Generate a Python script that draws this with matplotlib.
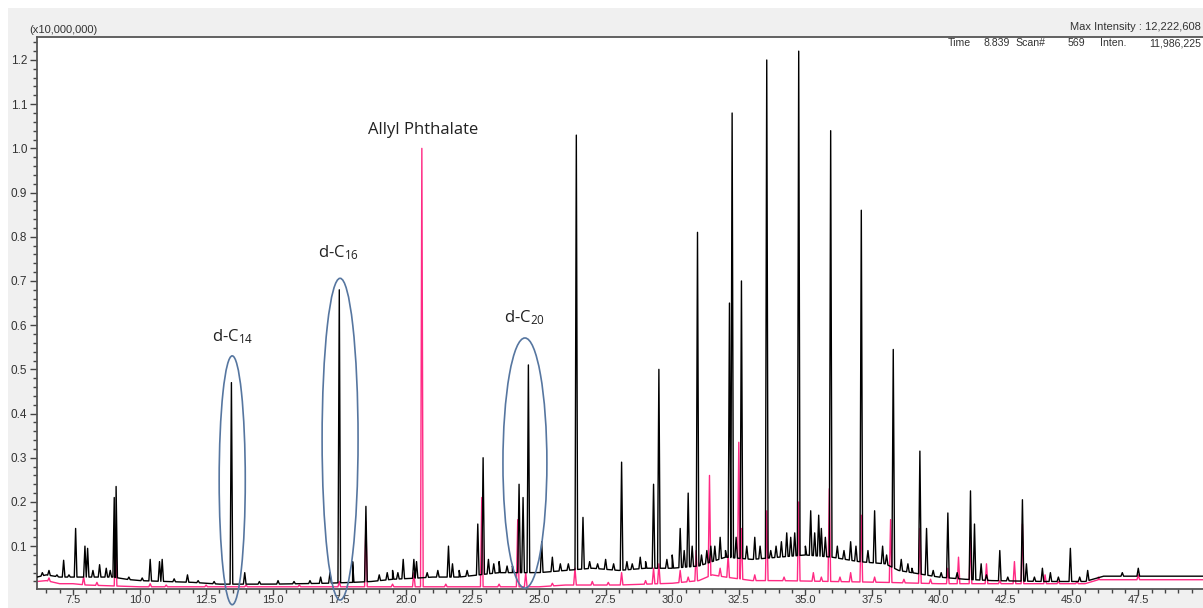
import numpy as np
import matplotlib
matplotlib.use("Agg")
import matplotlib.pyplot as plt
from matplotlib.patches import Ellipse, Rectangle
from matplotlib.ticker import MultipleLocator, FormatStrFormatter

# retention time (min) / intensity (x10,000,000)
black_base_t = [6.15, 6.5, 7.0, 8.0, 9.0, 9.5, 10.0, 11.0, 12.0, 13.0, 15.0, 17.0, 18.0, 18.7, 19.5,
                20.5, 21.0, 22.0, 23.5, 24.0, 25.0, 26.0, 27.0, 28.0, 29.0, 30.0, 31.0, 32.0, 33.0,
                34.0, 35.0, 36.0, 37.0, 38.0, 38.5, 39.0, 40.0, 41.0, 42.0, 44.0, 45.5, 46.2, 49.93]
black_base_i = [0.03, 0.035, 0.03, 0.03, 0.03, 0.025, 0.022, 0.02, 0.018, 0.014, 0.014, 0.016, 0.018, 0.02, 0.025,
                0.028, 0.03, 0.03, 0.04, 0.04, 0.04, 0.045, 0.05, 0.045, 0.05, 0.05, 0.055, 0.075, 0.07,
                0.075, 0.08, 0.075, 0.065, 0.06, 0.045, 0.04, 0.03, 0.025, 0.022, 0.02, 0.02, 0.032, 0.032]

black_peak_t = [6.6, 7.15, 7.35, 7.6, 7.95, 8.05, 8.5, 8.75, 9.05, 9.12, 10.4, 10.75, 10.85, 11.8,
                13.45, 13.95, 17.15, 17.5, 18.0, 18.5, 19.3, 19.5, 19.9, 20.3, 20.4, 21.6, 21.75,
                22.3, 22.7, 22.9, 23.1, 23.5, 23.8, 24.25, 24.4, 24.6, 25.1, 25.5, 26.1, 26.4, 26.65,
                27.5, 28.1, 28.5, 28.8, 29.3, 29.5, 29.8, 30.0, 30.3, 30.45, 30.6, 30.95, 31.3, 31.6,
                31.8, 32.0, 32.15, 32.25, 32.6, 33.1, 33.55, 33.9, 34.3, 34.45, 34.75, 35.0, 35.2,
                35.5, 35.6, 35.95, 36.2, 36.7, 37.1, 37.6, 37.9, 38.3, 38.6, 39.0, 39.3, 39.55, 40.35,
                40.7, 41.2, 41.35, 41.6, 42.3, 43.15, 43.3, 43.9, 44.2, 44.95, 45.6, 46.9, 47.5]
black_peak_i = [0.045, 0.068, 0.035, 0.14, 0.1, 0.095, 0.058, 0.05, 0.21, 0.235, 0.07, 0.065, 0.07, 0.035,
                0.47, 0.04, 0.04, 0.68, 0.065, 0.19, 0.04, 0.045, 0.07, 0.07, 0.065, 0.1, 0.06,
                0.045, 0.15, 0.30, 0.07, 0.065, 0.055, 0.24, 0.21, 0.51, 0.11, 0.075, 0.06, 1.03, 0.165,
                0.07, 0.29, 0.06, 0.075, 0.24, 0.50, 0.07, 0.08, 0.14, 0.09, 0.22, 0.81, 0.09, 0.10,
                0.12, 0.09, 0.65, 1.08, 0.70, 0.12, 1.20, 0.10, 0.13, 0.12, 1.22, 0.10, 0.18,
                0.17, 0.14, 1.04, 0.10, 0.11, 0.86, 0.18, 0.10, 0.545, 0.07, 0.05, 0.315, 0.14, 0.175,
                0.04, 0.225, 0.15, 0.06, 0.09, 0.205, 0.06, 0.05, 0.04, 0.095, 0.045, 0.04, 0.05]

# small baseline bumps ("grass") on the sample trace
black_small_t = [6.35, 6.9, 8.25, 8.9, 9.6, 10.1, 11.3, 12.2, 12.8, 14.5, 15.2, 15.8, 16.4, 16.8, 19.0,
                 19.7, 20.8, 21.2, 22.0, 23.3, 24.0, 25.8, 26.9, 27.2, 27.8, 28.3, 29.0, 30.75, 31.1,
                 31.45, 32.4, 32.8, 33.3, 33.7, 34.1, 34.6, 35.35, 35.75, 36.45, 36.9, 37.35, 38.05,
                 38.85, 39.8, 40.1, 41.8, 42.6, 43.6, 44.5, 45.3]
black_small_i = [0.04, 0.035, 0.045, 0.045, 0.03, 0.028, 0.026, 0.022, 0.02, 0.02, 0.022, 0.02, 0.022, 0.03, 0.035,
                 0.04, 0.04, 0.045, 0.045, 0.06, 0.055, 0.06, 0.065, 0.06, 0.06, 0.065, 0.065, 0.10, 0.08,
                 0.10, 0.12, 0.10, 0.10, 0.09, 0.11, 0.13, 0.13, 0.12, 0.09, 0.10, 0.09, 0.08,
                 0.06, 0.045, 0.04, 0.035, 0.03, 0.03, 0.03, 0.03]

pink_base_t = [6.15, 6.5, 7.0, 7.5, 8.0, 9.0, 10.0, 15.0, 20.0, 25.0, 26.0, 28.0, 30.0, 31.0, 31.5,
               32.0, 33.0, 34.0, 36.0, 38.0, 40.0, 45.5, 46.0, 49.93]
pink_base_i = [0.02, 0.022, 0.015, 0.015, 0.012, 0.01, 0.008, 0.008, 0.008, 0.008, 0.012, 0.012, 0.016,
               0.022, 0.035, 0.03, 0.022, 0.022, 0.02, 0.018, 0.015, 0.015, 0.024, 0.024]

pink_peak_t = [7.9, 9.1, 10.4, 17.5, 18.5, 20.3, 20.6, 22.85, 24.2, 24.5, 26.35, 28.1, 29.3, 29.5, 30.3,
               30.9, 31.4, 32.1, 32.5, 32.6, 33.55, 34.75, 35.3, 35.9, 36.7, 37.1, 38.2, 39.3, 40.35,
               40.75, 41.2, 41.8, 42.85, 43.15, 44.0, 46.0, 47.5]
pink_peak_i = [0.03, 0.13, 0.015, 0.02, 0.155, 0.04, 1.00, 0.21, 0.16, 0.04, 0.05, 0.04, 0.05, 0.06, 0.045,
               0.09, 0.26, 0.08, 0.335, 0.14, 0.18, 0.20, 0.04, 0.23, 0.04, 0.17, 0.16, 0.14, 0.05,
               0.075, 0.12, 0.06, 0.065, 0.15, 0.035, 0.03, 0.035]

pink_small_t = [6.6, 8.4, 11.0, 12.5, 14.0, 16.0, 19.5, 21.5, 23.5, 25.5, 27.0, 27.6, 29.0, 30.6, 31.8,
                33.1, 34.2, 35.6, 36.3, 37.6, 38.7, 39.7, 42.3, 44.5, 45.2]
pink_small_i = [0.028, 0.018, 0.012, 0.012, 0.012, 0.012, 0.014, 0.014, 0.014, 0.016, 0.02, 0.018, 0.022, 0.03, 0.05,
                0.035, 0.03, 0.03, 0.03, 0.03, 0.025, 0.025, 0.022, 0.02, 0.02]

# labelled internal standards: name, sub, centre time, centre intensity, width, height
std_names = ["d-C", "d-C", "d-C"]
std_subs = ["14", "16", "20"]
std_t = [13.48, 17.53, 24.47]
std_c = [0.249, 0.342, 0.288]
std_w = [0.98, 1.35, 1.65]
std_h = [0.563, 0.728, 0.566]
std_label_t = [13.48, 17.46, 24.44]
std_label_i = [0.575, 0.763, 0.616]


def trace(base_t, base_i, peak_t, peak_i, hw=0.05):
    bt = np.array(base_t)
    bi = np.array(base_i)
    pts = list(zip(base_t, base_i))
    for t, h in zip(peak_t, peak_i):
        for tt in (t - hw, t + hw):
            pts.append((tt, np.interp(tt, bt, bi)))
        pts.append((t, h))
    pts.sort(key=lambda p: p[0])
    return [p[0] for p in pts], [p[1] for p in pts]


W, H = 1203, 608
fig = plt.figure(figsize=(W / 100, H / 100), dpi=100)
fig.patch.set_facecolor("white")
fig.patches.append(Rectangle((8 / W, 0), 1, 1 - 8 / H, transform=fig.transFigure,
                             facecolor="#f0f0f0", edgecolor="none", zorder=-5))

ax = fig.add_axes([37 / W, (H - 589) / H, (W - 37) / W, (589 - 37) / H])
ax.set_facecolor("white")

x, y = trace(black_base_t, black_base_i, black_peak_t + black_small_t, black_peak_i + black_small_i)
ax.plot(x, y, color="black", lw=1.0, zorder=3)
x, y = trace(pink_base_t, pink_base_i, pink_peak_t + pink_small_t, pink_peak_i + pink_small_i)
ax.plot(x, y, color="#ff2a84", lw=1.0, zorder=2)

for t, c, w, h in zip(std_t, std_c, std_w, std_h):
    ax.add_patch(Ellipse((t, c), w, h, facecolor="none", edgecolor="#5676a0", lw=1.2,
                         clip_on=False, zorder=4))

plt.rcParams["mathtext.fontset"] = "custom"
plt.rcParams["mathtext.rm"] = "Open Sans"
plt.rcParams["mathtext.it"] = "Open Sans"
for n, s, t, i in zip(std_names, std_subs, std_label_t, std_label_i):
    ax.text(t, i, n + r"$_\mathregular{" + s + "}$", family="Open Sans", fontsize=12,
            ha="center", va="center", color="#222222")
ax.text(20.65, 1.041, "Allyl Phthalate", family="Open Sans", fontsize=12,
        ha="center", va="center", color="#222222")

ax.set_xlim(6.15, 49.93)
ax.set_ylim(0.003, 1.252)
ax.xaxis.set_major_locator(MultipleLocator(2.5))
ax.xaxis.set_minor_locator(MultipleLocator(0.5))
ax.yaxis.set_major_locator(MultipleLocator(0.1))
ax.yaxis.set_minor_locator(MultipleLocator(0.02))
ax.xaxis.set_major_formatter(FormatStrFormatter("%.1f"))
ax.yaxis.set_major_formatter(FormatStrFormatter("%.1f"))
ax.tick_params(which="major", length=5, width=1, color="#444444", labelsize=8.5,
               labelcolor="#333333", pad=2)
ax.tick_params(axis="x", which="major", length=4, labelsize=8, pad=0.5)
ax.tick_params(which="minor", length=3, width=1, color="#444444")
for lab in ax.get_xticklabels() + ax.get_yticklabels():
    lab.set_family("Liberation Sans")
ax.spines["right"].set_visible(False)
for s in ("left", "bottom", "top"):
    ax.spines[s].set_color("#555555")
    ax.spines[s].set_linewidth(1.3)

txt = dict(family="Liberation Sans", fontsize=8, color="#333333", va="center")
fig.text(29 / W, 1 - 30 / H, "(x10,000,000)", ha="left", **txt)
fig.text(1201 / W, 1 - 27 / H, "Max Intensity : 12,222,608", ha="right", **txt)
txt["fontsize"] = 7.6
for px, s in [(948, "Time"), (983, "8.839"), (1015, "Scan#"), (1068, "569"),
              (1100, "Inten.")]:
    fig.text(px / W, 1 - 43 / H, s, ha="left", **txt)
fig.text(1201 / W, 1 - 43 / H, "11,986,225", ha="right", **txt)

fig.savefig("out.png", dpi=100)
